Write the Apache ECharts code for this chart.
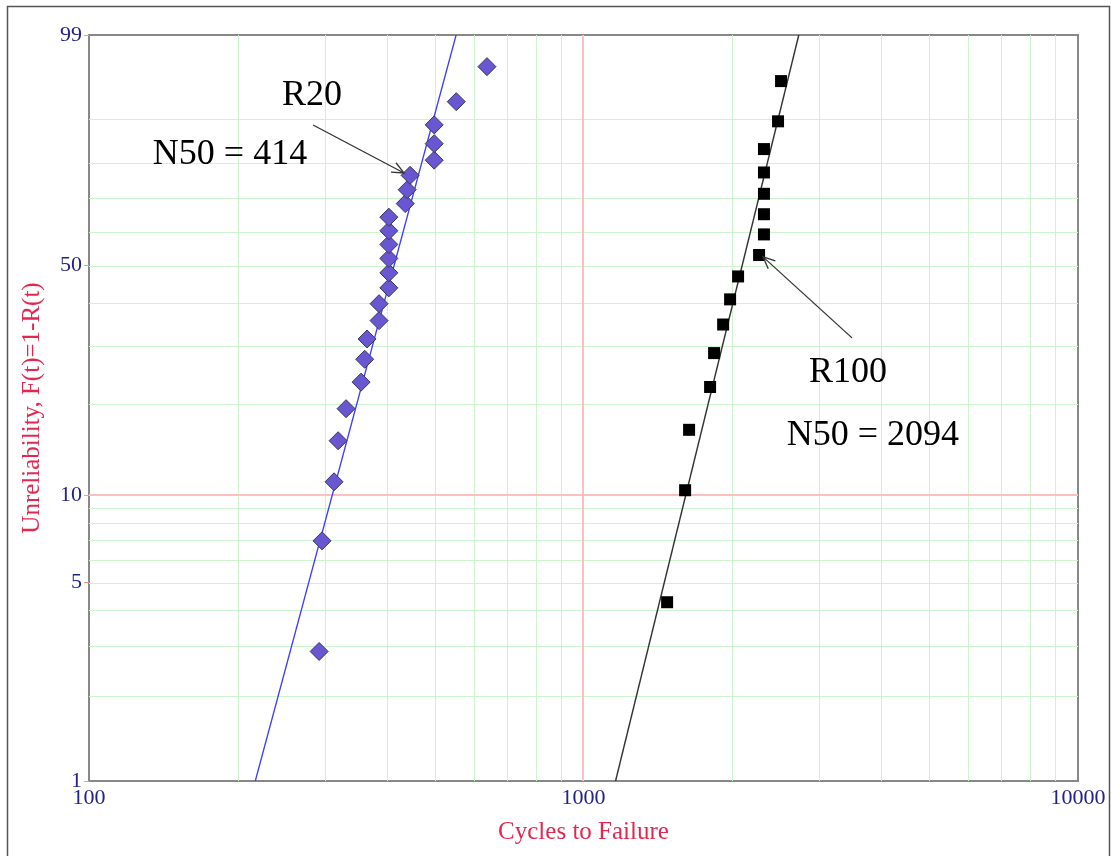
<!DOCTYPE html>
<html>
<head>
<meta charset="utf-8">
<title>Weibull probability plot — R20 / R100</title>
<script src="https://cdn.jsdelivr.net/npm/echarts@6/dist/echarts.min.js"></script>
<style>
  html, body { margin: 0; padding: 0; background: #fff; }
  #chart { width: 1111px; height: 856px; }
</style>
</head>
<body>
<div id="chart"></div>
<script>
// ---- data ---------------------------------------------------------------
// R20 specimens: cycles to failure and median-rank unreliability (%)
const r20Cycles = [292, 296, 313, 319, 331, 355, 361, 365, 386, 386, 404, 404, 404, 404, 404, 404, 436, 440, 446, 499, 499, 499, 553, 638];
const r20Unrel  = [2.87, 6.97, 11.07, 15.16, 19.26, 23.36, 27.46, 31.56, 35.66, 39.75, 43.85, 47.95, 52.05, 56.15, 60.25, 64.34, 68.44, 72.54, 76.64, 80.74, 84.84, 88.93, 93.03, 97.13];

// R100 specimens
const r100Cycles = [1476, 1605, 1635, 1803, 1837, 1916, 1979, 2054, 2265, 2317, 2317, 2317, 2317, 2317, 2474, 2509];
const r100Unrel  = [4.27, 10.37, 16.46, 22.56, 28.66, 34.76, 40.85, 46.95, 53.05, 59.15, 65.24, 71.34, 77.44, 83.54, 89.63, 95.73];

// Weibull fit lines (end points at F = 1 % and F = 99 %)
const r20FitCycles  = [216.9, 552.6];
const r20FitUnrel   = [1, 99];
const r100FitCycles = [1161, 2725];
const r100FitUnrel  = [1, 99];

// axis ticks and grid
const xTickLabels   = [100, 1000, 10000];
const yTickLabels   = [1, 5, 10, 50, 99];
const xMinorGrid    = [200, 300, 400, 500, 600, 700, 800, 900, 2000, 3000, 4000, 5000, 6000, 7000, 8000, 9000];
const xMajorGrid    = [1000];
const yMinorGrid    = [2, 3, 4, 5, 6, 7, 8, 9, 20, 30, 40, 50, 60, 70, 80, 90];
const yMajorGrid    = [10];

// annotations
const noteTexts   = ['R20', 'N50 = 414', 'R100', 'N50 = 2094'];
const noteCycles  = [282.6, 192.8, 3428, 3846];
const noteUnrel   = [93.9, 82.1, 25.1, 15.8];
const arrowFromCycles = [283.8, 3491];
const arrowFromUnrel  = [88.9, 31.8];
const arrowToCycles   = [433.5, 2307];
const arrowToUnrel    = [77.3, 52.5];

// ---- Weibull probability scale -----------------------------------------
const toW = F => Math.log(-Math.log(1 - F / 100));
const fromW = w => 100 * (1 - Math.exp(-Math.exp(w)));
const X_MIN = 100, X_MAX = 10000;
const W_MIN = toW(1), W_MAX = toW(99);

const SERIF = '"Liberation Serif", "Times New Roman", serif';
const TICK_COLOR = '#22228c';
const NAME_COLOR = '#e3284f';
const GREEN = '#cdf5cd';
const PINK = '#fcc0c0';

function gridSeries(values, vertical, color, width) {
  const off = width % 2 === 1 ? 0.5 : 0;
  return {
    type: 'custom',
    silent: true,
    z: 1,
    data: values.map(v => vertical ? [v, W_MIN] : [X_MIN, toW(v)]),
    renderItem: (params, api) => {
      let p1, p2;
      if (vertical) {
        p1 = api.coord([api.value(0), W_MIN]);
        p2 = api.coord([api.value(0), W_MAX]);
        const x = Math.round(p1[0]) + off;
        return { type: 'line', shape: { x1: x, y1: p1[1], x2: x, y2: p2[1] },
                 style: { stroke: color, lineWidth: width } };
      }
      p1 = api.coord([X_MIN, api.value(1)]);
      p2 = api.coord([X_MAX, api.value(1)]);
      const y = Math.round(p1[1]) + off;
      return { type: 'line', shape: { x1: p1[0], y1: y, x2: p2[0], y2: y },
               style: { stroke: color, lineWidth: width } };
    }
  };
}

const chart = echarts.init(document.getElementById('chart'), null, { renderer: 'canvas' });

chart.setOption({
  backgroundColor: '#fff',
  animation: false,
  graphic: [{
    type: 'rect',
    shape: { x: 7.5, y: 6.5, width: 1102, height: 870 },
    style: { fill: 'none', stroke: '#555', lineWidth: 1.5 },
    silent: true
  }],
  grid: {
    left: 89, right: 33, top: 35, bottom: 75,
    show: true,
    borderColor: '#888',
    borderWidth: 2,
    backgroundColor: 'transparent'
  },
  xAxis: {
    type: 'log',
    logBase: 10,
    min: X_MIN,
    max: X_MAX,
    name: 'Cycles to Failure',
    nameLocation: 'middle',
    nameGap: 39,
    nameTextStyle: { color: NAME_COLOR, fontFamily: SERIF, fontSize: 25 },
    axisLine: { show: false },
    axisTick: { show: false },
    splitLine: { show: false },
    axisLabel: {
      color: TICK_COLOR, fontFamily: SERIF, fontSize: 22, margin: 6,
      formatter: v => String(Math.round(v))
    }
  },
  yAxis: {
    type: 'value',
    min: W_MIN,
    max: W_MAX,
    name: 'Unreliability, F(t)=1-R(t)',
    nameLocation: 'middle',
    nameGap: 44,
    nameTextStyle: { color: NAME_COLOR, fontFamily: SERIF, fontSize: 25 },
    axisLine: { show: false },
    axisTick: {
      show: true, length: 5, inside: false,
      customValues: yTickLabels.map(toW),
      lineStyle: { color: '#f39a9a' }
    },
    splitLine: { show: false },
    axisLabel: {
      color: TICK_COLOR, fontFamily: SERIF, fontSize: 22, margin: 7,
      customValues: yTickLabels.map(toW),
      formatter: v => String(Math.round(fromW(v)))
    }
  },
  series: [
    gridSeries(xMinorGrid, true, GREEN, 1),
    gridSeries(yMinorGrid, false, GREEN, 1),
    gridSeries(xMajorGrid, true, PINK, 2),
    gridSeries(yMajorGrid, false, PINK, 2),
    {
      name: 'R20 fit',
      type: 'line',
      z: 2,
      silent: true,
      showSymbol: false,
      data: r20FitCycles.map((c, i) => [c, toW(r20FitUnrel[i])]),
      lineStyle: { color: '#3c3cff', width: 1.3 }
    },
    {
      name: 'R100 fit',
      type: 'line',
      z: 2,
      silent: true,
      showSymbol: false,
      data: r100FitCycles.map((c, i) => [c, toW(r100FitUnrel[i])]),
      lineStyle: { color: '#333', width: 1.4 }
    },
    {
      name: 'R20',
      type: 'scatter',
      z: 3,
      symbol: 'diamond',
      symbolSize: 18,
      data: r20Cycles.map((c, i) => [c, toW(r20Unrel[i])]),
      itemStyle: { color: '#6857d0', borderColor: '#3b3660', borderWidth: 1, opacity: 1 }
    },
    {
      name: 'R100',
      type: 'scatter',
      z: 3,
      symbol: 'rect',
      symbolSize: 12,
      data: r100Cycles.map((c, i) => [c, toW(r100Unrel[i])]),
      itemStyle: { color: '#000', opacity: 1 }
    },
    {
      // arrows pointing from the annotations to their data sets
      type: 'custom',
      z: 4,
      silent: true,
      data: arrowFromCycles.map((c, i) => [c, toW(arrowFromUnrel[i]), arrowToCycles[i], toW(arrowToUnrel[i])]),
      renderItem: (params, api) => {
        const a = api.coord([api.value(0), api.value(1)]);
        const b = api.coord([api.value(2), api.value(3)]);
        const ang = Math.atan2(a[1] - b[1], a[0] - b[0]);
        const len = 13, spread = 0.42;
        const h1 = [b[0] + len * Math.cos(ang + spread), b[1] + len * Math.sin(ang + spread)];
        const h2 = [b[0] + len * Math.cos(ang - spread), b[1] + len * Math.sin(ang - spread)];
        const st = { stroke: '#333', lineWidth: 1.3, fill: null };
        return {
          type: 'group',
          children: [
            { type: 'polyline', shape: { points: [a, b] }, style: st },
            { type: 'polyline', shape: { points: [h1, b, h2] }, style: st }
          ]
        };
      }
    },
    {
      // annotation texts
      type: 'custom',
      z: 4,
      silent: true,
      data: noteCycles.map((c, i) => [c, toW(noteUnrel[i]), i]),
      renderItem: (params, api) => {
        const p = api.coord([api.value(0), api.value(1)]);
        return {
          type: 'text',
          x: p[0], y: p[1],
          style: {
            text: noteTexts[api.value(2)],
            fill: '#000',
            font: '36px ' + SERIF,
            textAlign: 'center',
            textVerticalAlign: 'middle'
          }
        };
      }
    }
  ]
});
</script>
</body>
</html>
